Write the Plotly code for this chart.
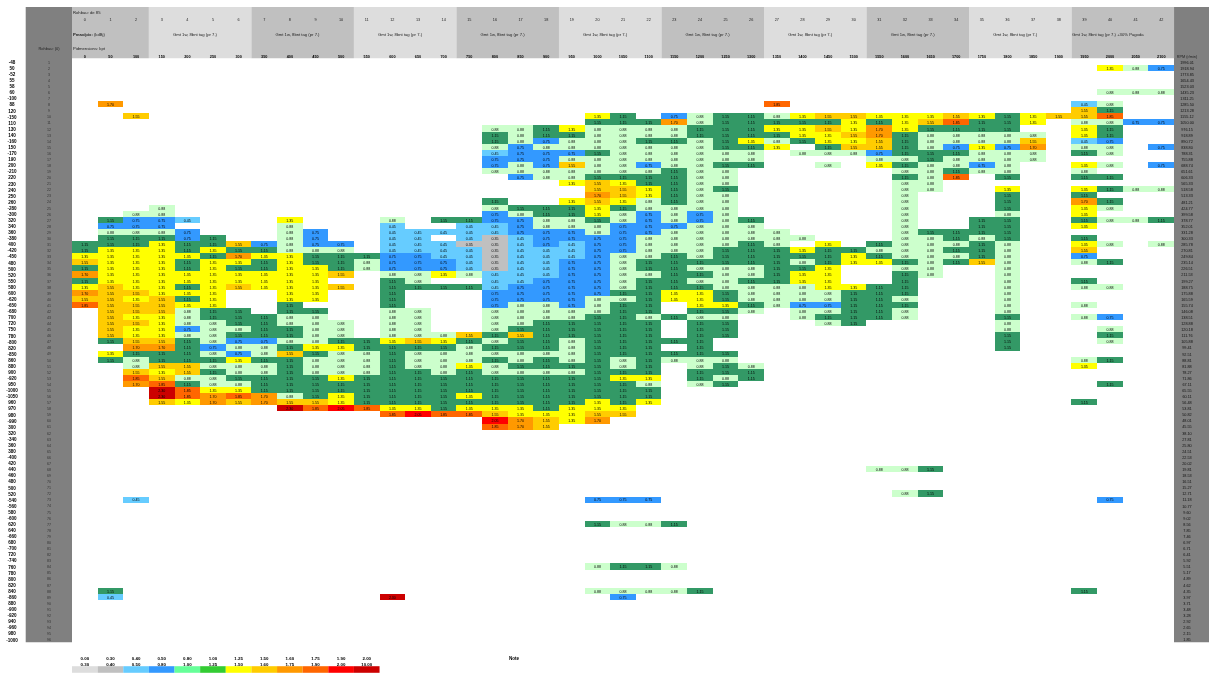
import plotly.graph_objects as go

BANDS = "abcdefghyopqrs"
BAND_COLORS = ["#DDDDDD","#C0C0C0","#66CCFF","#3399FF","#66FF99","#33CC33","#339966","#CCFFCC",
               "#FFFF00","#FFCC00","#FF9900","#FF6600","#FF0000","#CC0000"]
BAND_TEXT = ["0.20","0.35","0.45","0.75","0.85","1.05","1.15","0.88","1.35","1.55","1.70","1.85","2.05","2.30"]

# row number -> [(first column, band letters)]   '.' means an empty cell
ROWS = {
2:[(40,"yhd")], 6:[(40,"hhh")], 8:[(1,"p"),(27,"q"),(39,"ch")], 9:[(39,"og")],
10:[(2,"o"),(20,"yg.dhgghyooyyyoygyooq")],
11:[(20,"gggphgggggygyoqggy.hhdd")],
12:[(16,"hhgyhhhhgggyyoypygggg..yg")],
13:[(16,"ghgghhhhggggyyopghhhhh.yg")],
14:[(16,"ghdhhhgghgyhgyyoghhhho.cd")],
15:[(16,"hdhhhhhhhggy.googhdydp.hh.d")],
16:[(16,"cdddghhhhhh.hhhdggghhh.gh")],
17:[(16,"dddhhhhhhhh....hhghhhh")],
18:[(16,"dhdohhdhhgg..h.yghhdh..yh.d")],
19:[(16,"hhhhhhhghh......hhghh..h")],
20:[(17,"dhhgggghh......ghq.g..gg")],
21:[(19,"yoygghh......hh")],
22:[(20,"ooyghg......hh..y..yghh")],
23:[(20,"poyghh......h...g..g")],
24:[(16,"g"),(19,"yoyhghh......h...g..pg")],
25:[(3,"h"),(16,"hgggyghhhh......h...g..yh")],
26:[(2,"hh"),(16,"dhggyhdhdh......h...h..y")],
27:[(1,"gddc"),(8,"y"),(12,"h"),(14,"ggddhhghdhdhg.....h..gg..ghhg")],
28:[(1,"ddd"),(8,"h"),(12,"c"),(15,"ccdhhhdddhhh.....h..gg..y")],
29:[(1,"hhhd"),(8,"hd"),(12,"cccccdddhddhhhhh....hgggg")],
30:[(1,"gggdg"),(8,"hd"),(12,"cc.cbcddddhhhhhhh...hhghg..g")],
31:[(0,"gggyggodhd d.cccbbcdcd dhhhhgh.y.ghhhgh..yh.h")],
32:[(0,"gyyygygghh h.ccccbccc ddhhhgggyg ghhhggh..o")],
33:[(0,"yyyyygpyyg ggddccbccc dhhghggggg yghhhgh..d")],
34:[(0,"oyyygyygyg ghdddcbccd dhgggggghg yyghgoh..hg")],
35:[(0,"gyyygyggyy ghdddcbccd dhgghhhggy ..hh..h")],
36:[(0,"pyyyyyyyyy o.hhyhcccd dhhgghhgyy ..gh..h")],
37:[(0,"gyyyyyyyyy ..gh..ccdd dhgghhggyy ..g...h..g")],
38:[(0,"yoyygyoyyy o.ggggcddd dhggghhhhy ygg...h..hh")],
39:[(0,"pooyyy..yy ..g...dddd dggyyghhhh ggg...h")],
40:[(0,"ooyogy..yy ..g...dddd hhgyyghhhh ggh...h")],
41:[(0,"qoooyy..g. ..g...dhhd hgg.yyghdd ggg...h..h")],
42:[(0,".ooohgg.gg ..hh..hhhh hgg.ggh.hh ggh...h")],
43:[(0,".oyyhggghh ..hh..hhhh gghghh..hg ggh...g..hd")],
44:[(0,".ooyhhgghh h.hh..hhgg ggg.gg...h g.....h")],
45:[(0,".oyydhhggh h.hh..hggg ggg.gg.... ......h...h")],
46:[(0,".oyyhhgggh h.hhhogogg ggg.gg.... ......g...g")],
47:[(0,".googhddhh ggyoyghggh ggggg..... ......g...h")],
48:[(0,"..ppgdhhgy ygggghgggh ggg.g..... ......g")],
49:[(0,".yggghdhog hhghhhhhhh gggggg")],
50:[(0,".ghgggyggh hhghhhghgh ghghhh.... .........hg")],
51:[(0,"..hoohhhgh hhghhyhggg ghg.hgh... .........y")],
52:[(0,"..oyoghhgh hhgghghhhh ggg.ggg")],
53:[(0,"..qohhgggg yggggggggg gyy.ghg")],
54:[(0,"..pqghhggg gggggggggg ggh.hg.... ..........g")],
55:[(0,"...sqyyggg gggggggggg ggg")],
56:[(0,"...sqpqphg yggggygggg ggg")],
57:[(0,"...oypopoo yggggggggg ygy"),(39,"g")],
58:[(8,"sqrqyygyyygyyy")],
59:[(12,"qrqqoyyyoo")],
60:[(16,"rpoyp")],
61:[(16,"qpo")],
68:[(31,"hhg")],
72:[(32,"hg")],
73:[(2,"c"),(20,"ddd"),(40,"d")],
77:[(20,"ghhg")],
84:[(20,"hggh")],
88:[(1,"g"),(20,"hhhhg"),(39,"g")],
89:[(1,"c"),(12,"s"),(21,"d")],
}

COLUMN_NUMBERS = [str(i) for i in range(43)]
COLUMN_SPEEDS = ["0","50","100","150","200","250","300","350","400","450","500","550","600","650","700",
  "750","800","850","900","950","1000","1050","1100","1150","1200","1250","1300","1350","1400","1450","1500",
  "1550","1600","1650","1700","1750","1800","1850","1900","1950","2000","2050","2100"]
GROUPS = [(3,6),(7,10),(11,14),(15,18),(19,22),(23,26),(27,30),(31,34),(35,38)]
GROUP_LABEL = "Gmt 1w, 8bnt tag (pr 7.)"
LAST_GROUP_LABEL = "Gmt 1w, 8bnt tag (pr 7.) +30% Pagoda"
ROW_NUMBERS = [str(i) for i in range(1,97)]
FAR_LEFT = ["-48","50","-52","55","58","60","-100","88","120","-150","110","130","140","-160","150","-170","190","200",
 "-210","220","230","240","250","260","-280","-300","320","340","360","-380","400","-420","-450","480","500","520",
 "550","580","600","-620","-650","-680","700","720","750","780","-800","820","-850","860","880","900","-920","950",
 "-1000","-1050","960","970","980","-990","300","320","-340","360","380","-400","420","440","460","480","500","520","-540",
 "-560","580","-600","620","640","-660","680","-700","720","-740","760","780","800","820","840","-860","880","-900","-920","940","-960","980","-1000"]
FAR_RIGHT = ["1996.01","1918.94","1773.85","1654.43","1523.03","1435.23","1311.25","1285.50","1213.28","1155.12","1050.00",
 "976.15","918.89","890.72","838.80","788.31","755.88","688.74","651.61","606.33","565.33","518.58","513.33","481.21",
 "424.77","399.58","378.77","352.01","331.28","300.33","285.78","270.81","249.84","235.14","226.51","211.53","199.27",
 "188.75","175.88","165.59","155.74","146.08","138.51","128.88","120.18","111.76","105.88","99.41","92.51","88.81",
 "81.88","78.27","71.86","67.11","65.55","60.11","56.48","53.81","50.82","48.01","45.55","38.10","27.81","25.80",
 "24.51","22.53","20.02","19.81","18.53","16.51","15.27","12.71","11.18","10.77","9.60","9.02","8.56","7.85","7.46",
 "6.97","6.71","6.41","5.92","5.51","5.17","4.89","4.62","4.35","3.97","3.71","3.48","3.28","2.92","2.65","2.15","1.85"]
LEGEND_COLORS = ["#DDDDDD","#C0C0C0","#66CCFF","#3399FF","#66FF99","#33CC33","#FFFF00","#FFCC00","#FF9900","#FF6600","#FF0000","#CC0000"]
LEGEND_TOP = ["0.00","0.30","0.40","0.50","0.80","1.00","1.25","1.50","1.60","1.75","1.90","2.00"]
LEGEND_BOTTOM = ["0.30","0.40","0.50","0.80","1.00","1.25","1.50","1.60","1.75","1.90","2.00","10.00"]

W, H = 1209, 675
X0, CW, Y0, RH = 72.0, 25.63, 58.5, 6.08
def cx(px): return (px - X0) / CW - 0.5
def ry(px): return (px - Y0) / RH + 0.5

NROWS, NCOLS = 96, 43
z = [[None] * NCOLS for _ in range(NROWS)]
tx, ty, tt = [], [], []
for row, segs in ROWS.items():
    for start, letters in segs:
        letters = letters.replace(" ", "")
        for i, ch in enumerate(letters):
            if ch == ".":
                continue
            k = BANDS.index(ch)
            z[row - 1][start + i] = k
            tx.append(start + i); ty.append(row + 0.2); tt.append(BAND_TEXT[k])

n = len(BAND_COLORS)
cs = []
for i, c in enumerate(BAND_COLORS):
    cs += [[i / n, c], [(i + 1) / n, c]]

fig = go.Figure()
fig.add_trace(go.Heatmap(z=z, x=list(range(NCOLS)), y=list(range(1, NROWS + 1)), zmin=-0.5, zmax=n - 0.5,
                         colorscale=cs, showscale=False, hoverinfo="skip"))

def text(xs, ys, labels, size=4, color="#000", pos="middle center", family="Liberation Sans"):
    fig.add_trace(go.Scatter(x=xs, y=ys, mode="text", text=labels, textposition=pos, hoverinfo="skip",
                             textfont=dict(size=size, color=color, family=family), showlegend=False))

text(tx, ty, tt, size=3.6)
rows = list(range(1, NROWS + 1))
rows_lab = [r + 0.2 for r in rows]
text([cx(12)] * NROWS, rows_lab, ["<b>%s</b>" % s for s in FAR_LEFT], size=4.6)
text([cx(49)] * NROWS, rows_lab, ROW_NUMBERS, size=3.6, color="#333")
text([cx(1187)] * NROWS, rows_lab, FAR_RIGHT, size=3.8, color="#111")

cols = list(range(NCOLS))
text(cols, [ry(20.5)] * NCOLS, COLUMN_NUMBERS, size=3.8, color="#222")
text(cols, [ry(57)] * NCOLS, ["<b>%s</b>" % s for s in COLUMN_SPEEDS], size=3.8)
text([(a + b) / 2 - 0.2 for a, b in GROUPS], [ry(34.7)] * len(GROUPS), [GROUP_LABEL] * len(GROUPS), size=4.2, color="#222")
text([cx(1072)], [ry(34.7)], [LAST_GROUP_LABEL], size=4.2, color="#222", pos="middle right")
text([cx(73)] * 3, [ry(13.3), ry(34.7), ry(48.7)], ["Rohbau: de 85", "<b>Pmax/pix:</b> (kdBj)", "Pidmensions: kpt"], size=4.2, color="#222", pos="middle right")
text([cx(49)], [ry(48.7)], ["Rohbau: (0)"], size=4, color="#222")
text([cx(1187)], [ry(57)], ["RPM (r/min)"], size=3.8, color="#222")
text([cx(514)], [ry(659)], ["<b>Note</b>"], size=4.6)

lx = list(range(len(LEGEND_COLORS)))
text(lx, [ry(659.3)] * 12, ["<b>%s</b>" % s for s in LEGEND_TOP], size=4.4)
text(lx, [ry(665)] * 12, ["<b>%s</b>" % s for s in LEGEND_BOTTOM], size=4.4)

shapes = []
def rect(x0, x1, y0, y1, color):
    shapes.append(dict(type="rect", xref="x", yref="y", x0=x0, x1=x1, y0=y0, y1=y1,
                       fillcolor=color, line_width=0, layer="below"))
rect(cx(25.7), cx(72), ry(7), ry(642.3), "#808080")
rect(cx(1174), cx(1209), ry(7), ry(642.3), "#808080")
rect(-0.5, 2.5, ry(7), ry(58.3), "#C0C0C0")
for i, (a, b) in enumerate(GROUPS + [(39, 42)]):
    rect(a - 0.5, b + 0.5, ry(7), ry(58.3), "#C0C0C0" if i % 2 else "#DDDDDD")
for i, c in enumerate(LEGEND_COLORS):
    rect(i - 0.5, i + 0.5, ry(666.2), ry(672.8), c)

fig.update_layout(
    width=W, height=H, margin=dict(l=0, r=0, t=0, b=0, pad=0), autosize=False,
    paper_bgcolor="white", plot_bgcolor="white", showlegend=False, shapes=shapes,
    xaxis=dict(range=[cx(0), cx(W)], visible=False, fixedrange=True),
    yaxis=dict(range=[ry(H), ry(0)], visible=False, fixedrange=True),
)
fig.write_html("out.html", config={"displayModeBar": False},
               post_script="document.body.style.margin='0';document.body.style.overflow='hidden';"
                           "document.querySelector('.plotly-graph-div').style.filter='blur(0.45px)';")
